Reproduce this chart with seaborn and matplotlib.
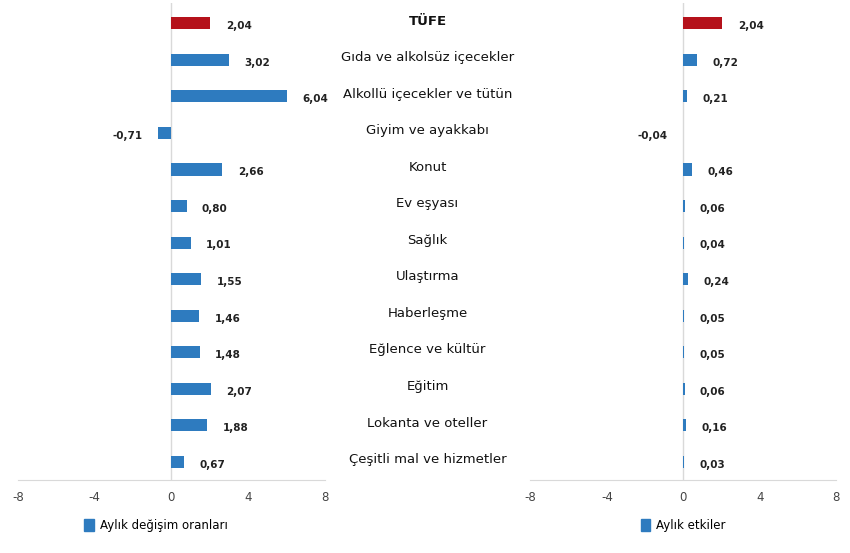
import matplotlib
matplotlib.use("Agg")
import matplotlib.pyplot as plt
import seaborn as sns
import pandas as pd

categories = ["TÜFE", "Gıda ve alkolsüz içecekler", "Alkollü içecekler ve tütün",
              "Giyim ve ayakkabı", "Konut", "Ev eşyası", "Sağlık", "Ulaştırma",
              "Haberleşme", "Eğlence ve kültür", "Eğitim", "Lokanta ve oteller",
              "Çeşitli mal ve hizmetler"]
rates = [2.04, 3.02, 6.04, -0.71, 2.66, 0.80, 1.01, 1.55, 1.46, 1.48, 2.07, 1.88, 0.67]
effects = [2.04, 0.72, 0.21, -0.04, 0.46, 0.06, 0.04, 0.24, 0.05, 0.05, 0.06, 0.16, 0.03]
ticks = [-8, -4, 0, 4, 8]

BLUE = "#2E7BBF"
RED = "#B5121B"
colors = [RED] + [BLUE] * (len(categories) - 1)

fig = plt.figure(figsize=(8.5, 5.53), dpi=100)
ax1 = fig.add_axes([0.021, 0.132, 0.361, 0.862])
ax2 = fig.add_axes([0.624, 0.132, 0.360, 0.862])

def fmt(v):
    return f"{v:.2f}".replace(".", ",")

for ax, vals, lab in [(ax1, rates, "Aylık değişim oranları"), (ax2, effects, "Aylık etkiler")]:
    df = pd.DataFrame({"cat": categories, "val": vals})
    sns.barplot(data=df, x="val", y="cat", hue="cat", palette=colors, legend=False,
                width=0.33, ax=ax, orient="h", saturation=1)
    ax.set_xlim(-8, 8)
    ax.set_ylim(12.5, -0.55)
    ax.set_xticks(ticks)
    ax.set_xticklabels([str(t) for t in ticks], fontsize=8.5, color="#444444")
    ax.tick_params(axis="x", length=0, pad=8)
    ax.set_yticks([])
    ax.set_xlabel("")
    ax.set_ylabel("")
    for s in ["top", "right", "left"]:
        ax.spines[s].set_visible(False)
    ax.spines["bottom"].set_color("#D9D9D9")
    ax.axvline(0, color="#D9D9D9", lw=1, zorder=0)
    for i, v in enumerate(vals):
        if v >= 0:
            ax.text(v + 0.8, i + 0.08, fmt(v), ha="left", va="center", fontsize=7.5,
                    fontweight="bold", color="#222222")
        else:
            ax.text(v - 0.8, i + 0.08, fmt(v), ha="right", va="center", fontsize=7.5,
                    fontweight="bold", color="#222222")
    ax.legend(handles=[plt.Rectangle((0, 0), 1, 1, color=BLUE)], labels=[lab],
              loc="upper center", bbox_to_anchor=(0.45 if ax is ax1 else 0.5, -0.06),
              frameon=False, fontsize=8.5, handlelength=0.8, handleheight=1.2,
              handletextpad=0.5)

for i, c in enumerate(categories):
    y = 0.132 + 0.862 * (12.5 - i) / 13.05 + 0.004
    fig.text(0.503, y, c, ha="center", va="center", fontsize=9.5,
             fontweight="bold" if i == 0 else "normal", color="#111111")

fig.savefig("out.png", dpi=100)
